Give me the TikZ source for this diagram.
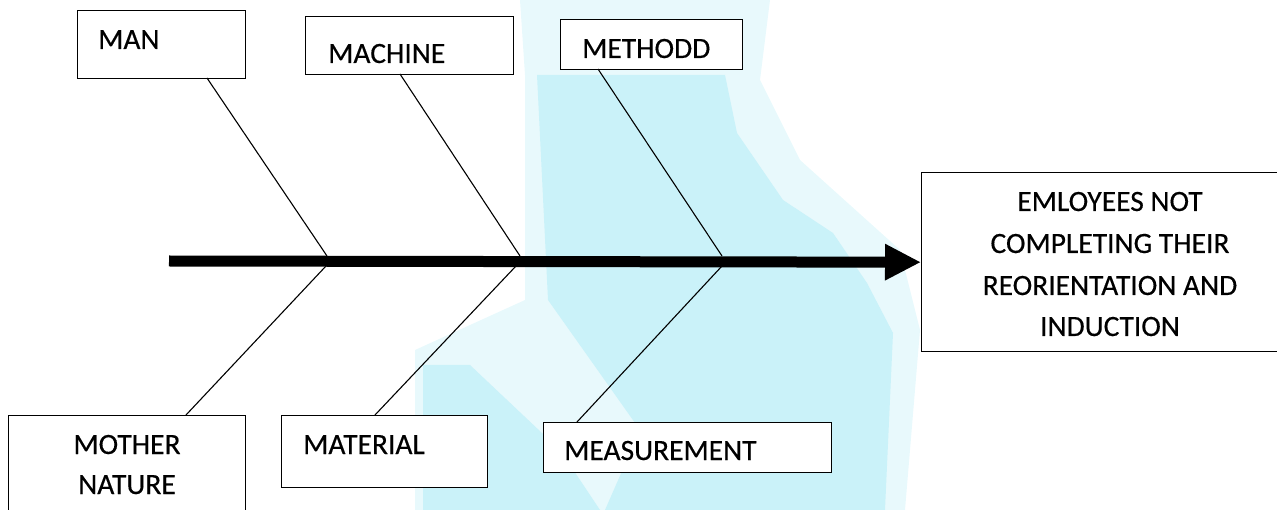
\documentclass[tikz,border=0pt]{standalone}
\usepackage{fontspec}
\setmainfont{Carlito}
\newfontfamily\lblfont{Carlito}[FakeBold=0.35]
\usetikzlibrary{arrows.meta}
\definecolor{wm}{RGB}{202,242,249}
\definecolor{wmlight}{RGB}{232,249,252}
\tikzset{
  box/.style={draw=black, line width=1.4pt, fill=white, inner sep=0pt, anchor=north west},
  lbl/.style={inner sep=0pt, anchor=base west, font=\fontsize{29.5}{42}\lblfont},
  bone/.style={line width=1.1pt, draw=black},
  spine/.style={line width=11pt, -{Triangle[length=36pt,width=34pt]}}
}
\begin{document}
\begin{tikzpicture}[x=1pt,y=-1pt]
\useasboundingbox (0,0) rectangle (1277,510);
% watermark
\fill[wmlight] (520,0) -- (770,0) -- (760,80) -- (800,160) -- (900,250) -- (920,330) -- (905,510) -- (415,510) -- (415,350) -- (525,300) -- (525,75) -- cycle;
\fill[wm] (537,75) -- (725,75) -- (737,133) -- (783,200) -- (833,233) -- (867,283) -- (893,333) -- (885,510) -- (605,510) -- (640,430) -- (548,300) -- cycle;
\fill[wm] (423,365) -- (470,365) -- (560,450) -- (600,510) -- (423,510) -- cycle;
% boxes
\node[box, minimum width=168pt, minimum height=68pt] (man) at (77,10) {};
\node[lbl] at (98,49) {MAN};
\node[box, minimum width=208pt, minimum height=58pt] (machine) at (305,16) {};
\node[lbl] at (328,63) {MACHINE};
\node[box, minimum width=182pt, minimum height=50pt] (method) at (560,19) {};
\node[lbl] at (582,58) {METHODD};
\node[box, minimum width=237pt, minimum height=100pt] (nature) at (8,415) {};
\node[lbl, anchor=base] at (127,454) {MOTHER};
\node[lbl, anchor=base] at (127,494) {NATURE};
\node[box, minimum width=206pt, minimum height=72pt] (material) at (281,415) {};
\node[lbl] at (303,454) {MATERIAL};
\node[box, minimum width=288pt, minimum height=50pt] (measure) at (543,422) {};
\node[lbl] at (564,460) {MEASUREMENT};
\node[box, minimum width=356pt, minimum height=179pt] (effect) at (921,172) {};
\node[lbl, anchor=base] at (1110,211) {EMLOYEES NOT};
\node[lbl, anchor=base] at (1110,253) {COMPLETING THEIR};
\node[lbl, anchor=base] at (1110,295) {REORIENTATION AND};
\node[lbl, anchor=base] at (1110,336) {INDUCTION};
% spine
\coordinate (tail) at (169,261);
\draw[spine] (tail) -- (effect.west);
% bones
\draw[bone] (207,78) -- (327,256);
\draw[bone] (400,74) -- (520,256);
\draw[bone] (598,69) -- (722,256);
\draw[bone] (326,266) -- (186,415);
\draw[bone] (516,266) -- (375,415);
\draw[bone] (722,266) -- (577,422);
\end{tikzpicture}
\end{document}
